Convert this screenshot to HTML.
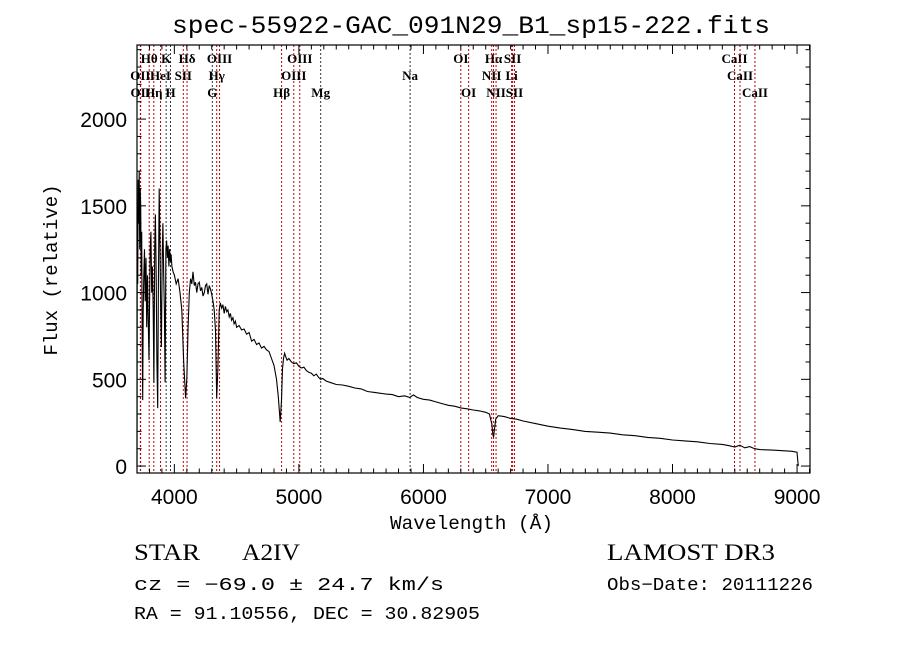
<!DOCTYPE html>
<html><head><meta charset="utf-8"><style>
html,body{margin:0;padding:0;background:#fff}
svg{display:block}
.m{font-family:"Liberation Mono",monospace}
.s{font-family:"Liberation Serif",serif}
.a{font-family:"Liberation Sans",sans-serif}
</style></head><body>
<svg id="chart" width="900" height="649" viewBox="0 0 900 649" xmlns="http://www.w3.org/2000/svg">
<rect width="900" height="649" fill="#fff"/>
<text class="m" x="172" y="33" font-size="25" textLength="598" lengthAdjust="spacingAndGlyphs">spec-55922-GAC_091N29_B1_sp15-222.fits</text>
<g id="lines"></g>
<g id="ticks"></g>
<path id="spec" fill="none" stroke="#000" stroke-width="1.1"/>
<rect x="137" y="45" width="673" height="428" fill="none" stroke="#000" stroke-width="1.2"/>
<text class="m" x="390" y="529" font-size="19" textLength="163" lengthAdjust="spacingAndGlyphs">Wavelength (Å)</text>
<text class="m" x="57" y="270" font-size="19" text-anchor="middle" transform="rotate(-90 57 270)">Flux (relative)</text>
<text class="s" x="134" y="560" font-size="23" textLength="66" lengthAdjust="spacingAndGlyphs">STAR</text>
<text class="s" x="242" y="560" font-size="23" textLength="58" lengthAdjust="spacingAndGlyphs">A2IV</text>
<text class="s" x="607" y="560" font-size="23" textLength="168" lengthAdjust="spacingAndGlyphs">LAMOST DR3</text>
<text class="m" x="134" y="590" font-size="18" textLength="310" lengthAdjust="spacingAndGlyphs">cz = −69.0 ± 24.7 km/s</text>
<text class="m" x="607" y="590" font-size="18" textLength="206" lengthAdjust="spacingAndGlyphs">Obs−Date: 20111226</text>
<text class="m" x="134" y="619" font-size="18" textLength="346" lengthAdjust="spacingAndGlyphs">RA =  91.10556, DEC =  30.82905</text>
</svg>
<script>
const wl=[3700,3702,3706,3710,3714,3718,3722,3726,3730,3734,
3738,3742,3746,3750,3755,3760,3766,3772,3778,3784,
3790,3796,3800,3806,3812,3818,3824,3830,3836,3842,
3848,3854,3860,3866,3872,3878,3884,3890,3896,3902,
3908,3914,3920,3926,3932,3938,3944,3950,3956,3962,
3968,3974,3980,3990,4000,4015,4030,4045,4060,4075,
4090,4100,4110,4120,4130,4140,4150,4160,4170,4180,
4190,4200,4210,4220,4230,4240,4250,4260,4270,4280,
4290,4300,4310,4320,4330,4340,4350,4360,4370,4380,
4390,4400,4410,4420,4430,4440,4450,4460,4470,4480,
4490,4500,4520,4540,4560,4580,4600,4620,4640,4660,
4680,4700,4720,4740,4760,4780,4800,4820,4835,4850,
4860,4868,4876,4885,4895,4905,4920,4940,4960,4980,
5000,5020,5040,5060,5080,5100,5120,5140,5160,5175,
5190,5220,5260,5300,5350,5400,5450,5500,5550,5600,
5650,5700,5750,5800,5850,5890,5920,5950,6000,6050,
6100,6150,6200,6250,6300,6350,6400,6450,6500,6530,
6550,6558,6563,6568,6580,6600,6650,6700,6750,6800,
6900,7000,7100,7200,7300,7400,7500,7600,7700,7800,
7900,8000,8100,8200,8300,8400,8450,8500,8540,8580,
8620,8660,8700,8800,8900,8960,9000,9010];
const flux=[0,1300,1050,1650,1400,1700,1250,1600,1500,1100,
1350,700,380,900,1100,1250,950,1200,800,1100,
850,611,900,1250,1350,1000,1150,900,480,1250,
1450,1100,600,334,1050,1600,1300,900,686,1200,
1400,1100,900,484,1250,1300,1200,1270,1150,1250,
1180,1220,1150,1120,1100,1050,1080,1000,900,600,
392,500,800,1000,1080,1050,1120,1040,1060,1000,
1050,1060,1010,1030,980,1000,1040,1050,990,1040,
1020,990,950,900,780,392,560,900,940,910,
930,880,920,890,900,860,880,840,855,820,
835,800,810,785,790,760,770,720,730,700,
710,680,690,670,660,620,580,500,400,254,
380,560,620,650,630,610,620,600,590,595,
575,565,570,550,540,535,520,530,510,500,
505,490,480,470,467,460,450,445,430,425,
420,415,412,400,405,395,410,395,385,380,
370,360,350,345,335,330,323,318,310,300,
240,180,167,200,270,290,285,275,270,260,
245,230,219,210,200,195,190,180,175,165,
160,150,145,140,130,125,118,110,120,105,
112,100,95,92,88,85,80,0];
const lineNames=["Hθ","K","Hδ","OIII","OIII","OI","Hα","SII","CaII","OII","HeI","SII","Hγ","OIII","Na","NII","Li","CaII","OII","Hη","H","G","Hβ","Mg","OI","NII","SII","CaII"];
const lineWaves=[3798,3934,4102,4363,5007,6300,6563,6716,8498,3727,3889,4072,4340,4959,5893,6548,6708,8542,3729,3835,3969,4305,4861,5175,6363,6583,6731,8662];
const lineRows=[0,0,0,0,0,0,0,0,0,1,1,1,1,1,1,1,1,1,2,2,2,2,2,2,2,2,2,2];
const lineAbs=[0,1,0,0,0,0,0,0,0,0,0,0,0,0,1,0,0,0,0,0,1,1,0,1,0,0,0,0];
const xTicks=[4000,5000,6000,7000,8000,9000];
const yTicks=[0,500,1000,1500,2000];
const X0=137,X1=810,Y0=45,Y1=473,W0=3700,W1=9104,F0=-40,F1=2427;
function xs(w){return X0+(w-W0)/(W1-W0)*(X1-X0);}
function ys(f){return Y1-(f-F0)/(F1-F0)*(Y1-Y0);}
const NS="http://www.w3.org/2000/svg";
function mk(tag,attrs,parent){const e=document.createElementNS(NS,tag);for(const k in attrs)e.setAttribute(k,attrs[k]);parent.appendChild(e);return e;}
let d="";
const n=Math.min(wl.length,flux.length);
for(let i=0;i<n;i++){d+=(i?"L":"M")+xs(wl[i]).toFixed(1)+","+ys(flux[i]).toFixed(1);}
document.getElementById("spec").setAttribute("d",d);
const lg=document.getElementById("lines");
const rowY=[63,80,97];
for(let i=0;i<lineWaves.length;i++){
  const x=xs(lineWaves[i]);
  const l=mk("line",{x1:x,x2:x,y1:Y0,y2:Y1,stroke:lineAbs[i]?"#333":"#c00000","stroke-width":1,"stroke-dasharray":"2,2"},lg);
  
  
  const t=mk("text",{x:x,y:rowY[lineRows[i]],"font-size":13,"font-weight":"bold","text-anchor":"middle","class":"s"},lg);
  t.textContent=lineNames[i];
  
  
}
const tg=document.getElementById("ticks");
for(let w=3700;w<=9100;w+=100){
  const x=xs(w);const big=w%1000===0;const L=big?9:4.5;
  mk("line",{x1:x,x2:x,y1:Y1,y2:Y1-L,stroke:"#000"},tg);
  mk("line",{x1:x,x2:x,y1:Y0,y2:Y0+L,stroke:"#000"},tg);
}
for(let f=0;f<=2400;f+=100){
  const y=ys(f);const big=f%500===0;const L=big?9:4.5;
  mk("line",{x1:X0,x2:X0+L,y1:y,y2:y,stroke:"#000"},tg);
  mk("line",{x1:X1,x2:X1-L,y1:y,y2:y,stroke:"#000"},tg);
}
xTicks.forEach(w=>{
  const t=mk("text",{x:xs(w),y:504,"font-size":21,"text-anchor":"middle","class":"a"},tg);
  t.textContent=w;
  
  
});
yTicks.forEach(f=>{
  const t=mk("text",{x:127,y:ys(f)+8,"font-size":21,"text-anchor":"end","class":"a"},tg);
  t.textContent=f;
  
  
});
</script>
</body></html>
